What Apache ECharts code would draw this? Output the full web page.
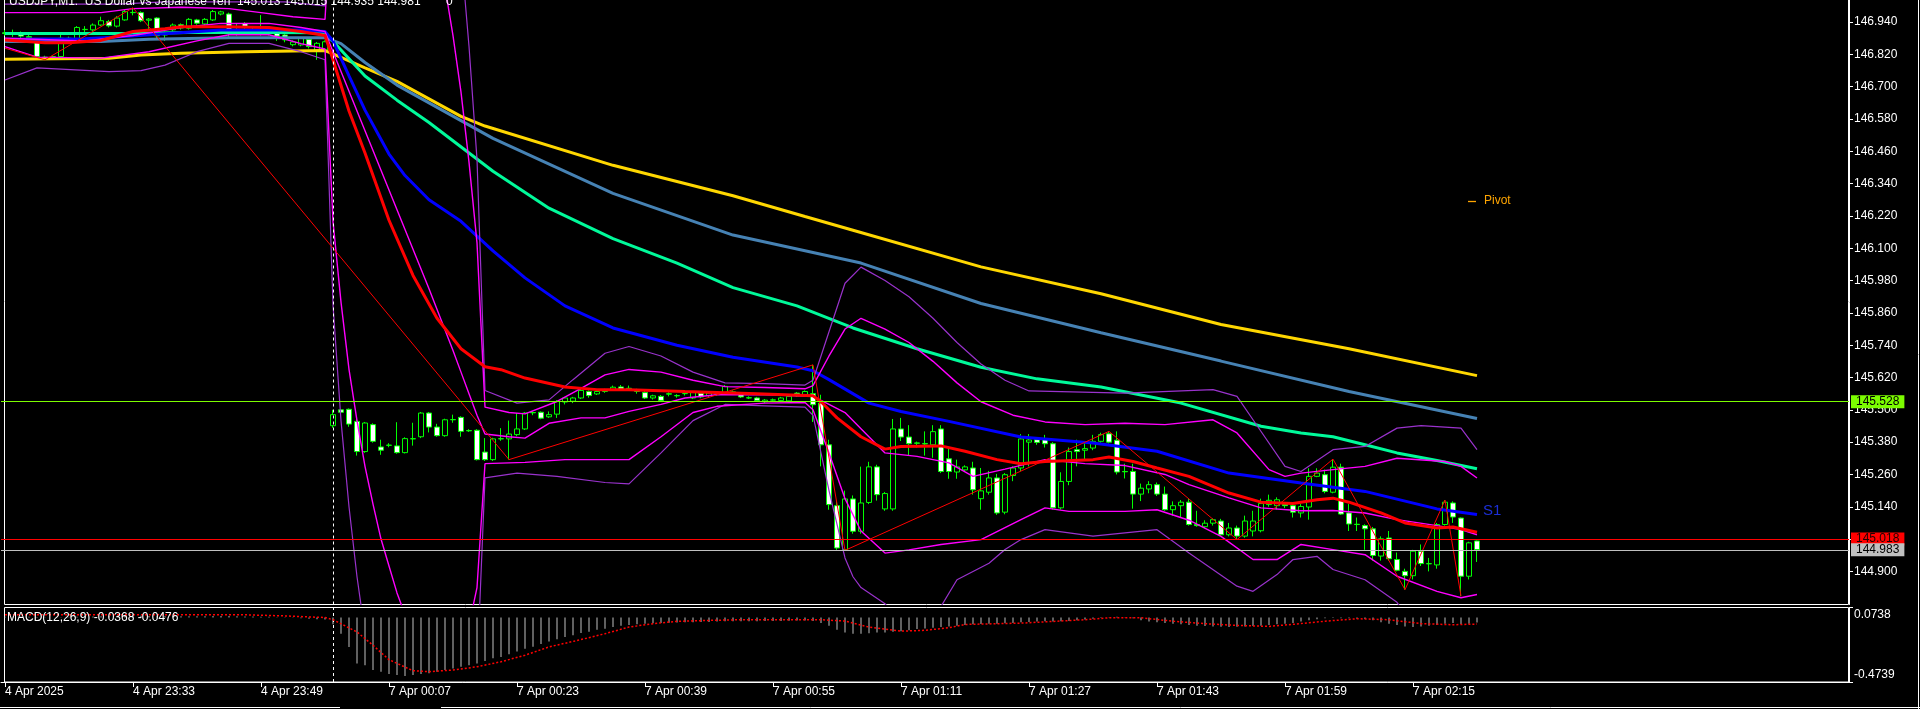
<!DOCTYPE html>
<html><head><meta charset="utf-8">
<script src="https://cdn.jsdelivr.net/npm/echarts@6/dist/echarts.min.js"></script>
<style>html,body{margin:0;padding:0;background:#000;}#c{width:1920px;height:709px;}</style>
</head><body><div id="c"></div>
<script>
// ---------- categories (minute bars) ----------
const daySegments = [['4 Apr', 23 * 60 + 17, 41], ['7 Apr', 0, 144]];
const futureSlots = 46;
const timeTicks = [[0,'4 Apr 2025'],[16,'4 Apr 23:33'],[32,'4 Apr 23:49'],[48,'7 Apr 00:07'],[64,'7 Apr 00:23'],[80,'7 Apr 00:39'],[96,'7 Apr 00:55'],[112,'7 Apr 01:11'],[128,'7 Apr 01:27'],[144,'7 Apr 01:43'],[160,'7 Apr 01:59'],[176,'7 Apr 02:15']];
const priceTicks = [146.94,146.82,146.70,146.58,146.46,146.34,146.22,146.10,145.98,145.86,145.74,145.62,145.50,145.38,145.26,145.14,145.02,144.90];

// ---------- candles [open, high, low, close] ----------
const candles = [
[146.900,146.910,146.890,146.898],[146.898,146.912,146.885,146.899],[146.898,146.905,146.880,146.888],[146.882,146.893,146.875,146.886],
[146.864,146.874,146.806,146.812],[146.810,146.815,146.800,146.806],[146.806,146.816,146.802,146.812],[146.812,146.898,146.806,146.880],
[146.880,146.886,146.870,146.876],[146.876,146.925,146.870,146.920],[146.912,146.925,146.900,146.913],[146.911,146.935,146.905,146.929],
[146.929,146.960,146.925,146.945],[146.942,146.948,146.920,146.926],[146.925,146.962,146.920,146.955],[146.948,146.985,146.945,146.979],
[146.975,146.993,146.965,146.976],[146.975,146.980,146.940,146.945],[146.947,146.955,146.915,146.951],[146.955,146.958,146.880,146.889],
[146.892,146.905,146.870,146.897],[146.911,146.935,146.905,146.929],[146.930,146.935,146.912,146.918],[146.917,146.955,146.912,146.950],
[146.948,146.952,146.930,146.936],[146.933,146.955,146.928,146.950],[146.948,146.985,146.944,146.979],[146.970,146.982,146.965,146.978],
[146.970,146.975,146.885,146.898],[146.897,146.935,146.890,146.905],[146.935,146.940,146.915,146.923],[146.912,146.918,146.900,146.908],
[146.911,146.966,146.890,146.910],[146.917,146.922,146.890,146.898],[146.898,146.905,146.870,146.888],[146.892,146.900,146.865,146.874],
[146.856,146.872,146.850,146.866],[146.855,146.885,146.850,146.880],[146.876,146.880,146.842,146.849],[146.836,146.866,146.800,146.861],
[146.836,146.872,146.830,146.867],
[145.441,145.500,145.433,145.482],[145.500,145.502,145.489,145.491],[145.502,145.505,145.437,145.447],[145.457,145.475,145.330,145.345],
[145.345,145.455,145.340,145.451],[145.445,145.450,145.378,145.383],[145.362,145.389,145.333,145.350],[145.368,145.376,145.361,145.369],
[145.366,145.454,145.337,145.341],[145.341,145.398,145.338,145.393],[145.392,145.452,145.367,145.393],[145.400,145.492,145.395,145.488],
[145.488,145.492,145.416,145.436],[145.436,145.448,145.400,145.404],[145.404,145.467,145.400,145.463],[145.463,145.482,145.452,145.464],
[145.472,145.476,145.400,145.420],[145.423,145.428,145.418,145.422],[145.424,145.428,145.312,145.315],[145.343,145.395,145.310,145.315],
[145.315,145.396,145.310,145.392],[145.392,145.432,145.385,145.393],[145.392,145.460,145.315,145.410],[145.408,145.488,145.402,145.429],
[145.429,145.492,145.425,145.488],[145.490,145.494,145.480,145.489],[145.491,145.494,145.465,145.469],[145.474,145.494,145.470,145.482],
[145.484,145.536,145.470,145.531],[145.529,145.548,145.520,145.544],[145.532,145.548,145.525,145.544],[145.544,145.578,145.540,145.572],
[145.568,145.572,145.545,145.553],[145.559,145.572,145.555,145.568],[145.568,145.578,145.563,145.572],[145.575,145.590,145.570,145.584],
[145.585,145.592,145.573,145.577],[145.578,145.590,145.572,145.580],[145.568,145.578,145.560,145.572],[145.564,145.570,145.540,145.544],
[145.544,145.556,145.538,145.552],[145.550,145.555,145.530,145.535],[145.558,145.565,145.550,145.560],[145.552,145.558,145.545,145.553],
[145.560,145.566,145.553,145.561],[145.544,145.568,145.540,145.564],[145.562,145.567,145.543,145.548],[145.553,145.566,145.548,145.562],
[145.559,145.565,145.553,145.560],[145.560,145.592,145.555,145.587],[145.560,145.572,145.555,145.567],[145.556,145.560,145.544,145.548],
[145.544,145.550,145.540,145.545],[145.544,145.548,145.530,145.535],[145.530,145.540,145.525,145.536],[145.536,145.542,145.530,145.537],
[145.535,145.548,145.530,145.544],[145.533,145.554,145.528,145.550],[145.562,145.566,145.548,145.552],[145.556,145.572,145.550,145.568],
[145.560,145.667,145.455,145.519],[145.525,145.556,145.290,145.370],[145.370,145.389,145.129,145.148],[145.144,145.160,144.980,144.987],
[144.981,145.200,144.978,145.169],[145.169,145.182,145.040,145.049],[145.049,145.289,145.040,145.154],[145.156,145.307,145.150,145.288],
[145.288,145.296,145.163,145.185],[145.132,145.195,145.125,145.189],[145.132,145.466,145.125,145.429],[145.429,145.470,145.384,145.399],
[145.399,145.443,145.330,145.374],[145.377,145.382,145.360,145.376],[145.373,145.420,145.330,145.375],[145.370,145.443,145.322,145.419],
[145.429,145.443,145.265,145.271],[145.318,145.360,145.244,145.271],[145.269,145.315,145.244,145.288],[145.277,145.294,145.270,145.288],
[145.284,145.307,145.185,145.203],[145.170,145.284,145.129,145.199],[145.194,145.273,145.185,145.247],[145.247,145.262,145.110,145.117],
[145.120,145.265,145.112,145.259],[145.256,145.290,145.235,145.284],[145.284,145.410,145.272,145.392],[145.380,145.410,145.290,145.388],
[145.389,145.395,145.370,145.379],[145.389,145.407,145.360,145.374],[145.374,145.380,145.130,145.136],[145.136,145.268,145.130,145.234],
[145.234,145.360,145.220,145.345],[145.352,145.389,145.290,145.345],[145.350,145.380,145.310,145.356],[145.358,145.407,145.350,145.383],
[145.383,145.415,145.378,145.408],[145.411,145.420,145.375,145.380],[145.387,145.420,145.260,145.269],[145.271,145.300,145.245,145.270],
[145.271,145.300,145.133,145.187],[145.187,145.226,145.161,145.209],[145.206,145.235,145.190,145.222],[145.222,145.230,145.180,145.187],
[145.187,145.215,145.125,145.129],[145.129,145.160,145.107,145.144],[145.144,145.165,145.100,145.157],[145.157,145.170,145.070,145.074],
[145.074,145.125,145.066,145.070],[145.066,145.090,145.060,145.079],[145.079,145.097,145.070,145.092],[145.087,145.095,145.030,145.036],
[145.036,145.080,145.030,145.061],[145.061,145.070,145.018,145.031],[145.031,145.107,145.025,145.087],[145.050,145.125,145.030,145.087],
[145.051,145.170,145.045,145.152],[145.148,145.185,145.140,145.164],[145.144,145.175,145.130,145.166],[145.148,145.155,145.135,145.144],
[145.144,145.155,145.100,145.120],[145.117,145.150,145.100,145.141],[145.139,145.283,145.092,145.253],[145.253,145.283,145.250,145.265],
[145.259,145.278,145.190,145.197],[145.194,145.317,145.190,145.287],[145.287,145.300,145.110,145.113],[145.117,145.150,145.050,145.076],
[145.075,145.100,145.050,145.074],[145.070,145.075,144.980,145.058],[145.058,145.065,144.940,144.959],[144.957,145.030,144.940,145.021],
[145.024,145.050,144.940,144.947],[144.944,144.970,144.900,144.904],[144.900,144.910,144.832,144.884],[144.884,144.980,144.870,144.975],
[144.975,145.000,144.920,144.929],[144.928,144.950,144.900,144.929],[144.924,145.080,144.910,145.074],[145.074,145.165,145.070,145.157],
[145.154,145.160,145.080,145.102],[145.098,145.100,144.808,144.882],[144.882,145.010,144.870,145.006],[145.013,145.015,144.935,144.981]
];

// ---------- moving averages [barIndex, price] ----------
const redMA = [[0,146.873],[5,146.863],[8,146.863],[12,146.872],[13,146.88],[16,146.905],[20,146.915],[22,146.923],[28,146.923],[33,146.92],[37,146.905],[40,146.89],[41,146.80],[43,146.61],[45,146.454],[48,146.204],[51,145.999],[54,145.84],[57,145.727],[60,145.66],[62,145.649],[65,145.618],[70,145.585],[74,145.575],[78,145.575],[85,145.568],[94,145.56],[101,145.552],[102,145.53],[104,145.47],[107,145.40],[110,145.354],[112,145.364],[117,145.366],[120,145.346],[124,145.315],[127,145.30],[130,145.308],[136,145.315],[138,145.325],[141,145.308],[144,145.284],[148,145.253],[153,145.191],[157,145.157],[161,145.152],[164,145.166],[166,145.172],[168,145.157],[172,145.117],[175,145.08],[179,145.061],[181,145.065],[184,145.045]];
const blueMA = [[0,146.876],[10,146.878],[14,146.885],[19,146.895],[27,146.911],[37,146.911],[40,146.905],[41,146.87],[43,146.74],[45,146.613],[48,146.45],[50,146.37],[53,146.28],[57,146.2],[61,146.09],[65,145.99],[70,145.886],[76,145.804],[84,145.74],[91,145.695],[99,145.659],[101,145.645],[103,145.612],[108,145.525],[112,145.494],[118,145.457],[127,145.399],[136,145.377],[144,145.346],[153,145.265],[162,145.228],[170,145.197],[179,145.132],[184,145.111]];
const aquaMA = [[0,146.898],[15,146.898],[25,146.902],[40,146.90],[42,146.836],[45,146.74],[49,146.65],[53,146.567],[61,146.386],[68,146.249],[76,146.136],[84,146.045],[91,145.954],[99,145.886],[106,145.804],[114,145.727],[122,145.658],[129,145.615],[137,145.585],[147,145.525],[157,145.439],[162,145.414],[166,145.40],[170,145.37],[174,145.34],[179,145.312],[184,145.281]];
const steelMA = [[0,146.868],[12,146.868],[18,146.876],[28,146.882],[40,146.882],[42,146.86],[45,146.79],[49,146.706],[61,146.508],[76,146.304],[91,146.149],[107,146.045],[122,145.895],[137,145.786],[152,145.681],[168,145.568],[184,145.468]];
const goldMA = [[0,146.802],[13,146.806],[17,146.818],[22,146.824],[30,146.83],[40,146.834],[41,146.822],[45,146.77],[49,146.72],[57,146.59],[60,146.554],[76,146.408],[91,146.295],[100,146.218],[106,146.167],[122,146.031],[137,145.931],[152,145.817],[168,145.727],[184,145.627]];

// ---------- Bollinger bands [barIndex, price] ----------
const bbMagUpper = [[0,146.975],[12,146.975],[16,146.99],[22,146.995],[28,146.99],[32,146.975],[36,146.96],[40,146.95],[41,147.46],[42,147.62],[50,147.6],[55,147.07],[56,146.89],[57,146.68],[58,146.42],[59,146.12],[60,145.51],[63,145.49],[65,145.485],[69,145.531],[72,145.58],[75,145.63],[78,145.65],[82,145.64],[86,145.61],[90,145.586],[95,145.583],[100,145.578],[101,145.59],[103,145.70],[105,145.80],[107,145.84],[110,145.80],[113,145.75],[116,145.68],[119,145.60],[122,145.53],[126,145.48],[130,145.455],[135,145.445],[140,145.45],[145,145.445],[151,145.463],[154,145.414],[158,145.278],[160,145.253],[162,145.265],[166,145.278],[170,145.29],[174,145.32],[180,145.308],[182,145.29],[184,145.247]];
const bbMagMid = [[0,146.88],[10,146.87],[16,146.89],[22,146.92],[27,146.935],[33,146.935],[37,146.92],[40,146.905],[41,146.83],[44,146.61],[47,146.39],[50,146.17],[53,145.95],[56,145.72],[57,145.64],[58,145.56],[59,145.48],[60,145.41],[63,145.40],[65,145.395],[68,145.45],[72,145.47],[75,145.47],[78,145.494],[82,145.52],[85,145.544],[89,145.556],[95,145.556],[101,145.55],[103,145.52],[105,145.49],[107,145.43],[110,145.34],[114,145.327],[118,145.303],[121,145.253],[125,145.28],[130,145.315],[135,145.30],[140,145.293],[145,145.26],[148,145.222],[153,145.173],[157,145.136],[162,145.125],[166,145.126],[170,145.117],[174,145.092],[179,145.07],[182,145.055],[184,145.036]];
const bbMagLower = [[0,146.849],[4,146.81],[12,146.806],[18,146.83],[24,146.87],[28,146.893],[33,146.893],[37,146.86],[40,146.84],[41,146.20],[42,145.90],[43,145.65],[44,145.46],[45,145.29],[46,145.15],[47,145.02],[48,144.92],[49,144.82],[50,144.74],[54,144.55],[57,144.60],[58,144.70],[59,144.84],[60,145.30],[65,145.305],[70,145.315],[78,145.315],[82,145.40],[86,145.49],[89,145.513],[95,145.525],[100,145.527],[101,145.50],[103,145.34],[105,145.17],[107,145.05],[110,144.968],[113,144.98],[117,145.0],[122,145.018],[127,145.092],[130,145.136],[133,145.123],[140,145.123],[144,145.129],[148,145.09],[152,145.03],[156,144.944],[159,144.944],[162,145.0],[166,144.981],[170,144.962],[174,144.882],[179,144.826],[182,144.802],[184,144.814]];
const bbPurUpper = [[0,147.007],[14,147.007],[20,147.015],[35,147.015],[40,147.0],[41,147.77],[45,148.4],[55,147.7],[57,147.2],[58,146.85],[59,146.43],[60,145.572],[64,145.525],[68,145.537],[71,145.612],[75,145.71],[78,145.735],[82,145.70],[86,145.64],[90,145.60],[95,145.597],[100,145.592],[101,145.61],[103,145.79],[105,145.97],[107,146.03],[110,145.98],[113,145.92],[116,145.84],[119,145.75],[122,145.67],[125,145.61],[128,145.57],[140,145.562],[151,145.575],[154,145.55],[156,145.463],[160,145.29],[162,145.271],[166,145.352],[170,145.364],[174,145.432],[177,145.441],[182,145.432],[184,145.352]];
const bbPurLower = [[0,146.725],[4,146.77],[13,146.756],[17,146.76],[20,146.78],[24,146.83],[28,146.861],[33,146.861],[37,146.83],[40,146.80],[41,145.89],[42,145.46],[43,145.14],[44,144.88],[45,144.67],[50,144.0],[57,144.1],[58,144.3],[59,144.53],[60,145.247],[64,145.265],[69,145.253],[75,145.23],[78,145.225],[82,145.34],[86,145.46],[90,145.52],[95,145.515],[100,145.51],[101,145.48],[103,145.2],[105,144.95],[106,144.88],[107,144.84],[110,144.78],[111,144.74],[116,144.72],[119,144.869],[123,144.93],[125,144.981],[127,145.018],[130,145.055],[136,145.031],[140,145.043],[144,145.055],[148,144.968],[154,144.845],[156,144.826],[159,144.888],[161,144.944],[164,144.956],[166,144.907],[170,144.869],[174,144.785],[176,144.70],[184,144.65]];

// ---------- zigzag ----------
const zigzag = [[0,146.843],[5,146.80],[16,146.993],[63,145.315],[101,145.667],[105,144.978],[138,145.42],[154,145.018],[166,145.317],[175,144.832],[180,145.165],[182,144.808]];

// ---------- price levels ----------
const levels = [[145.528,'#7cfc00','#000000'],[145.018,'#ff0000','#200000'],[144.983,'#c0c0c0','#000000']];

// ---------- MACD(12,26,9) ----------
const macdHist = [
0.006,0.007,0.008,0.006,0.004,0.002,0.001,0.002,0.003,0.005,0.006,0.008,0.009,0.01,0.011,0.012,0.013,0.013,0.011,0.01,0.009,
0.009,0.009,0.01,0.01,0.01,0.011,0.012,0.011,0.009,0.008,0.007,0.006,0.005,0.003,0.002,
-0.002,-0.005,-0.008,-0.012,-0.015,
-0.05,-0.12,-0.216,-0.338,-0.35,-0.386,-0.398,-0.415,-0.423,-0.43,
-0.423,-0.415,-0.41,-0.398,-0.386,-0.374,-0.362,-0.35,-0.338,-0.32,
-0.30,-0.29,-0.27,-0.25,-0.23,-0.215,-0.195,-0.176,-0.16,-0.143,
-0.13,-0.113,-0.104,-0.09,-0.082,-0.07,-0.06,-0.055,-0.05,-0.045,
-0.042,-0.04,-0.038,-0.036,-0.035,-0.034,-0.033,-0.032,-0.03,-0.028,
-0.028,-0.027,-0.027,-0.027,-0.026,-0.026,-0.025,-0.024,-0.022,-0.021,
-0.025,-0.04,-0.06,-0.09,-0.11,-0.12,-0.12,-0.115,-0.11,-0.11,
-0.104,-0.1,-0.094,-0.085,-0.08,-0.075,-0.07,-0.066,-0.06,-0.055,
-0.05,-0.048,-0.045,-0.045,-0.042,-0.04,-0.035,-0.033,-0.03,-0.028,
-0.03,-0.028,-0.025,-0.02,-0.015,-0.008,-0.004,0.003,0.005,0.002,
-0.005,-0.02,-0.03,-0.035,-0.04,-0.045,-0.05,-0.055,-0.06,-0.062,
-0.065,-0.068,-0.07,-0.068,-0.065,-0.062,-0.06,-0.055,-0.05,-0.045,
-0.04,-0.03,-0.02,-0.012,-0.006,-0.004,-0.005,-0.006,-0.008,-0.01,
-0.02,-0.035,-0.045,-0.055,-0.065,-0.07,-0.065,-0.06,-0.055,-0.045,
-0.04,-0.048,-0.045,-0.037];
const macdSignal = [[0,0.02],[20,0.021],[30,0.02],[35,0.012],[40,0.0],[41,-0.016],[44,-0.106],[46,-0.204],[48,-0.31],[51,-0.391],[53,-0.398],[56,-0.386],[59,-0.362],[62,-0.325],[65,-0.277],[68,-0.216],[72,-0.162],[75,-0.119],[78,-0.07],[81,-0.045],[84,-0.028],[88,-0.021],[92,-0.016],[99,-0.016],[102,-0.016],[105,-0.026],[108,-0.07],[112,-0.1],[115,-0.094],[118,-0.075],[120,-0.051],[127,-0.041],[135,-0.016],[138,-0.002],[142,-0.002],[146,-0.027],[150,-0.045],[154,-0.058],[158,-0.065],[161,-0.05],[165,-0.027],[169,-0.009],[173,-0.016],[177,-0.045],[181,-0.053],[184,-0.048]];
const macdRange = [-0.4739, 0.0738];

// ---------- build ----------
const cats = [];
daySegments.forEach(([day, start, n]) => {
  for (let k = 0; k < n; k++) {
    const m = start + k, h = Math.floor(m / 60) % 24, mm = m % 60;
    cats.push(day + ' ' + String(h).padStart(2, '0') + ':' + String(mm).padStart(2, '0'));
  }
});
for (let k = 0; k < futureSlots; k++) cats.push('future' + k);
const tickMap = {}; timeTicks.forEach(([i, t]) => tickMap[i] = t);

const FONT = 'Liberation Sans';
const ohlcData = candles.map(([o, h, l, c]) => [o, c, l, h]);

function line(data, color, width, z, type) {
  return { type: 'line', data, xAxisIndex: 0, yAxisIndex: 0, showSymbol: false, symbol: 'none',
    lineStyle: { color, width, type: type || 'solid' }, z, silent: true, clip: true, animation: false };
}

const chart = echarts.init(document.getElementById('c'), null, { renderer: 'canvas' });
chart.setOption({
  backgroundColor: '#000000',
  animation: false,
  grid: [
    { left: 1, right: 71, top: 0, height: 604.5 },
    { left: 1, right: 71, top: 607.5, height: 74.5 }
  ],
  xAxis: [
    { type: 'category', gridIndex: 0, data: cats, show: false, boundaryGap: true },
    { type: 'category', gridIndex: 1, data: cats, boundaryGap: true,
      axisLine: { show: true, onZero: false, lineStyle: { color: '#ffffff', width: 1 } },
      axisTick: { show: true, alignWithLabel: true, length: 5, interval: (i) => tickMap[i] !== undefined, lineStyle: { color: '#ffffff' } },
      axisLabel: { show: true, interval: (i) => tickMap[i] !== undefined, formatter: (v, i) => tickMap[i] || '',
        align: 'left', color: '#ffffff', fontFamily: FONT, fontSize: 12, margin: 4 },
      splitLine: { show: false } }
  ],
  yAxis: [
    { type: 'value', gridIndex: 0, position: 'right', min: 144.777, max: 147.022, scale: true,
      axisLine: { show: true, lineStyle: { color: '#ffffff', width: 1 } },
      axisTick: { show: true, length: 4, customValues: priceTicks, lineStyle: { color: '#ffffff' } },
      axisLabel: { show: true, customValues: priceTicks, formatter: (v) => v.toFixed(3), color: '#ffffff', fontFamily: FONT, fontSize: 12, margin: 5 },
      splitLine: { show: false } },
    { type: 'value', gridIndex: 1, position: 'right', min: macdRange[0], max: macdRange[1],
      axisLine: { show: true, lineStyle: { color: '#ffffff', width: 1 } },
      axisTick: { show: true, length: 4, customValues: macdRange, lineStyle: { color: '#ffffff' } },
      axisLabel: { show: false },
      splitLine: { show: false } }
  ],
  series: [
    { type: 'candlestick', xAxisIndex: 0, yAxisIndex: 0, data: ohlcData, barWidth: 5, z: 2, silent: true,
      itemStyle: { color: '#000000', color0: '#ffffff', borderColor: '#00ff00', borderColor0: '#00ff00', borderWidth: 1 },
      markLine: { symbol: ['none', 'none'], silent: true, animation: false, z: 20,
        data: levels.map(([p, bg, fg]) => ({ yAxis: p, lineStyle: { color: bg, width: 1, type: 'solid' },
          label: { show: true, position: 'end', formatter: p.toFixed(3), backgroundColor: bg, color: fg,
            fontFamily: FONT, fontSize: 12, lineHeight: 13, padding: [0, 5, 0, 5], distance: 2 } }))
          .concat([{ xAxis: cats[41], lineStyle: { color: '#ffffff', width: 1, type: [3, 3] }, label: { show: false } }]) } },
    line(goldMA, '#ffd700', 3, 3),
    line(steelMA, '#4682b4', 3, 4),
    line(aquaMA, '#00fa9a', 3, 5),
    line(blueMA, '#0000ff', 3, 6),
    line(bbPurUpper, '#9932cc', 1.2, 7),
    line(bbPurLower, '#9932cc', 1.2, 7),
    line(bbMagUpper, '#ff00ff', 1.4, 8),
    line(bbMagMid, '#ff00ff', 1.4, 8),
    line(bbMagLower, '#ff00ff', 1.4, 8),
    line(redMA, '#ff0000', 3, 9),
    line(zigzag, '#ff0000', 1, 10),
    { type: 'bar', xAxisIndex: 1, yAxisIndex: 1, data: macdHist, barWidth: 1, silent: true,
      itemStyle: { color: '#c0c0c0' },
      markLine: { symbol: ['none', 'none'], silent: true, animation: false,
        data: [{ xAxis: cats[41], lineStyle: { color: '#ffffff', width: 1, type: [3, 3] }, label: { show: false } }] } },
    { type: 'line', xAxisIndex: 1, yAxisIndex: 1, data: macdSignal, showSymbol: false, symbol: 'none', silent: true,
      lineStyle: { color: '#ff0000', width: 1.5, type: [2, 2] }, z: 5 }
  ],
  graphic: [
    { type: 'rect', shape: { x: 4.5, y: -1, width: 1844, height: 605.5 }, style: { fill: null, stroke: '#ffffff', lineWidth: 1 }, silent: true, z: 1 },
    { type: 'rect', shape: { x: 4.5, y: 607.5, width: 1844, height: 74.5 }, style: { fill: null, stroke: '#ffffff', lineWidth: 1 }, silent: true, z: 1 },
    { type: 'line', shape: { x1: 0, y1: 707.5, x2: 340, y2: 707.5 }, style: { stroke: '#ffffff', lineWidth: 1 }, silent: true },
    { type: 'line', shape: { x1: 441, y1: 707.5, x2: 1920, y2: 707.5 }, style: { stroke: '#ffffff', lineWidth: 1 }, silent: true },
    { type: 'line', shape: { x1: 1918.5, y1: 0, x2: 1918.5, y2: 709 }, style: { stroke: '#ffffff', lineWidth: 1 }, silent: true },
    { type: 'text', x: 9, y: -4, style: { text: 'USDJPY,M1:  US Dollar vs Japanese Yen  145.013 145.015 144.935 144.981', fill: '#ffffff', font: '12px "Liberation Sans"' }, silent: true, z: 30 },
    { type: 'text', x: 446, y: -4, style: { text: '0', fill: '#ffffff', font: '12px "Liberation Sans"' }, silent: true, z: 30 },
    { type: 'text', x: 7, y: 612, style: { text: 'MACD(12,26,9) -0.0368 -0.0476', fill: '#ffffff', font: '12px "Liberation Sans"' }, silent: true, z: 30 },
    { type: 'text', x: 1854, y: 608.5, style: { text: macdRange[1].toFixed(4), fill: '#ffffff', font: '12px "Liberation Sans"' }, silent: true, z: 30 },
    { type: 'text', x: 1854, y: 668.5, style: { text: macdRange[0].toFixed(4), fill: '#ffffff', font: '12px "Liberation Sans"' }, silent: true, z: 30 },
    { type: 'line', shape: { x1: 1468, y1: 201.5, x2: 1476, y2: 201.5 }, style: { stroke: '#ffa500', lineWidth: 1.3 }, silent: true, z: 30 },
    { type: 'text', x: 1484, y: 194.5, style: { text: 'Pivot', fill: '#ffa500', font: '12px "Liberation Sans"' }, silent: true, z: 30 },
    { type: 'text', x: 1483, y: 503, style: { text: 'S1', fill: '#1c2fd6', font: '15px "Liberation Sans"' }, silent: true, z: 30 }
  ]
});
</script></body></html>
